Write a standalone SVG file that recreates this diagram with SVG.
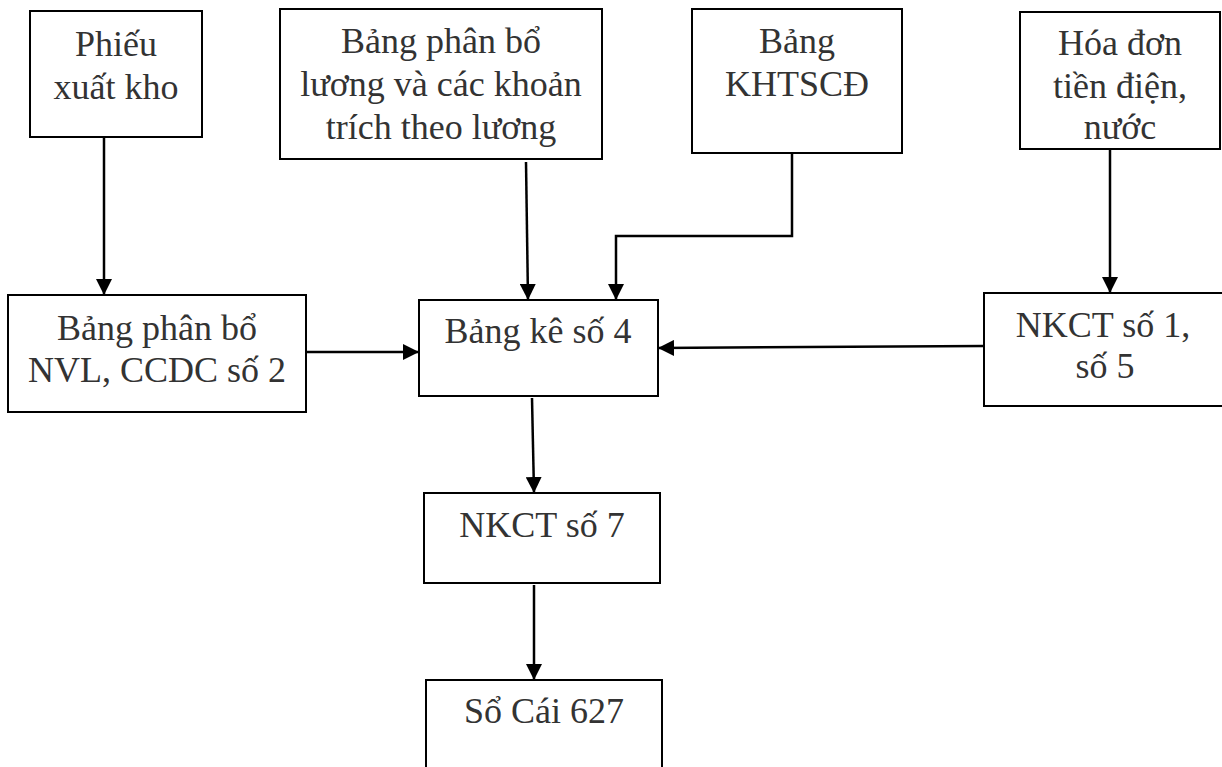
<svg xmlns="http://www.w3.org/2000/svg" width="1222" height="767" viewBox="0 0 1222 767">
<style>
.box{fill:#fff;stroke:#000;stroke-width:2}
.t{font-family:"Liberation Serif","Times New Roman",serif;font-size:36px;fill:#333;text-anchor:middle}
.c{fill:none;stroke:#000;stroke-width:2.5}
</style>
<defs>
<marker id="ah" markerUnits="userSpaceOnUse" markerWidth="16" markerHeight="16" viewBox="0 0 16 16" refX="16" refY="8" orient="auto">
<path d="M0,0 L16,8 L0,16 Z" fill="#000"/>
</marker>
</defs>
<rect width="1222" height="767" fill="#fff"/>
<g id="phieu"><rect class="box" x="30" y="11" width="172" height="126"/><text class="t" x="116" y="56">Phiếu</text><text class="t" x="116" y="99">xuất kho</text></g>
<g id="luong"><rect class="box" x="280" y="9" width="322" height="150"/><text class="t" x="441" y="53">Bảng phân bổ</text><text class="t" x="441" y="96">lương và các khoản</text><text class="t" x="441" y="139">trích theo lương</text></g>
<g id="khtscd"><rect class="box" x="692" y="9" width="210" height="144"/><text class="t" x="797" y="53">Bảng</text><text class="t" x="797" y="96">KHTSCĐ</text></g>
<g id="hoadon"><rect class="box" x="1020" y="12" width="200" height="137"/><text class="t" x="1120" y="55">Hóa đơn</text><text class="t" x="1120" y="98">tiền điện,</text><text class="t" x="1120" y="139">nước</text></g>
<g id="nvl"><rect class="box" x="8" y="295" width="298" height="117"/><text class="t" x="157" y="340">Bảng phân bổ</text><text class="t" x="157" y="382">NVL, CCDC số 2</text></g>
<g id="bangke"><rect class="box" x="419" y="300" width="239" height="96"/><text class="t" x="538" y="343">Bảng kê số 4</text></g>
<g id="nkct1"><rect class="box" x="984" y="293" width="250" height="113"/><text class="t" x="1103" y="337">NKCT số 1,</text><text class="t" x="1105" y="378">số 5</text></g>
<g id="nkct7"><rect class="box" x="424" y="493" width="236" height="90"/><text class="t" x="542" y="537">NKCT số 7</text></g>
<g id="socai"><rect class="box" x="426" y="680" width="236" height="100"/><text class="t" x="544" y="723">Sổ Cái 627</text></g>
<g id="connectors">
<path class="c" d="M104,137 L104,295" marker-end="url(#ah)"/>
<path class="c" d="M526,162 L528,300" marker-end="url(#ah)"/>
<path class="c" d="M792,153 L792,236 L616,236 L616,300" marker-end="url(#ah)"/>
<path class="c" d="M1110,149 L1110,293" marker-end="url(#ah)"/>
<path class="c" d="M306,352 L419,352" marker-end="url(#ah)"/>
<path class="c" d="M984,346 L658,348" marker-end="url(#ah)"/>
<path class="c" d="M532,398 L534,493" marker-end="url(#ah)"/>
<path class="c" d="M534,585 L534,680" marker-end="url(#ah)"/>
</g>
</svg>
